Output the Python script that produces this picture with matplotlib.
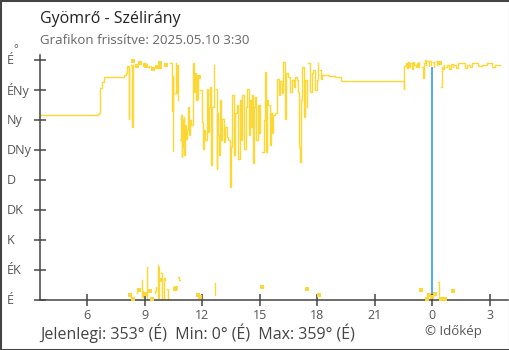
import numpy as np
import matplotlib
matplotlib.use('Agg')
import matplotlib.pyplot as plt
from matplotlib import transforms
from matplotlib.patches import Rectangle

plt.rcParams['font.family'] = ['Open Sans', 'DejaVu Sans']

TITLE = 'Gyömrő - Szélirány'
SUBTITLE = 'Grafikon frissítve: 2025.05.10 3:30'
FOOTER = 'Jelenlegi: 353° (É)  Min: 0° (É)  Max: 359° (É)'
CREDIT = '© Időkép'

# wind direction readings: hour of day (past midnight > 24) and degrees
TIME_H = [
    3.50, 6.55, 6.62, 6.70, 6.76, 6.88, 7.45, 7.92, 8.05,
    8.10, 8.16, 8.18, 8.20, 8.24, 8.28, 8.33, 8.36, 8.38, 8.40, 8.42,
    8.58, 8.61, 8.63, 8.71, 8.75, 8.84, 8.86, 8.94, 9.02, 9.07, 9.09,
    9.13, 9.15, 9.18, 9.24, 9.28, 9.31, 9.36, 9.39, 9.44, 9.52, 9.55,
    9.60, 9.65, 9.69, 9.71, 9.76, 9.78, 9.80, 9.82, 9.88, 9.90, 10.00,
    10.04, 10.13, 10.18, 10.22, 10.34, 10.43, 10.47, 10.49, 10.56, 10.58,
    10.62, 10.66, 10.68, 10.71, 10.74, 10.75, 10.78, 10.85, 10.86, 10.90,
    10.93, 10.97, 11.00, 11.03, 11.05,
    11.09, 11.14, 11.20, 11.26, 11.31, 11.37, 11.42, 11.52, 11.57, 11.62,
    11.68, 11.74, 11.77, 11.79, 11.82, 11.88, 11.91, 11.99, 12.04, 12.10,
    12.16, 12.25, 12.30, 12.36, 12.41, 12.46, 12.52, 12.60, 12.66, 12.68,
    12.70, 12.75, 12.80, 12.85, 12.90, 12.95, 13.00, 13.05, 13.12, 13.20,
    13.28, 13.36, 13.44, 13.50, 13.57, 13.64, 13.72, 13.82, 13.88, 13.95,
    14.02, 14.09, 14.17, 14.26, 14.35, 14.42, 14.50, 14.56, 14.61, 14.66,
    14.71, 14.76, 14.82, 14.89, 14.96, 15.03, 15.10, 15.13, 15.20, 15.29,
    15.34, 15.40, 15.45, 15.52, 15.60, 15.65, 15.70, 15.82, 15.91, 15.99,
    16.06, 16.14, 16.22, 16.30, 16.38, 16.48, 16.58, 16.68, 16.78, 16.85,
    16.94, 17.01, 17.06, 17.11, 17.16, 17.22, 17.30, 17.38, 17.45, 17.48,
    17.53, 17.62, 17.70, 17.79, 17.88, 17.96, 18.05, 18.10, 18.14, 18.20,
    18.26, 18.60, 18.95, 19.25, 22.50,
    22.53, 22.60, 22.66, 22.72, 22.78, 22.85, 22.92, 22.98, 23.05, 23.12,
    23.18, 23.25, 23.32, 23.40, 23.45, 23.50, 23.54, 23.60, 23.66, 23.70,
    23.74, 23.80, 23.84, 23.88, 23.93, 23.96, 24.02, 24.08, 24.13, 24.18,
    24.24, 24.31, 24.33, 24.36, 24.40, 24.43, 24.46, 24.48, 24.55, 24.62,
    24.66, 24.70, 24.78, 24.86, 24.95, 25.05, 25.09, 25.14, 25.25, 25.33,
    25.70, 25.80, 25.95, 26.06, 26.37, 26.60, 26.84, 27.10, 27.25, 27.42,
    27.50,
]
DIR_DEG = [
    277, 279, 281, 318, 327, 334, 335, 337, 340,
    351, 350, 272, 351, 7, 352, 350, 260, 353, 1, 359,
    10, 14, 351, 15, 356, 30, 4, 13, 352, 9, 351,
    50, 2, 350, 351, 13, 351, 349, 2, 347, 10, 14,
    20, 350, 53, 3, 49, 349, 30, 356, 40, 2, 33,
    30, 352, 17, 2, 355, 283, 336, 223, 17, 310,
    355, 18, 310, 353, 300, 34, 30, 30, 240, 277,
    215, 270, 230, 275, 218,
    262, 242, 255, 290, 247, 270, 262, 355, 312, 340,
    300, 332, 302, 8, 335, 5, 315, 267, 227, 255,
    240, 317, 252, 290, 320, 202, 290, 352, 25, 8,
    317, 197, 280, 247, 217, 300, 240, 272, 237, 260,
    245, 240, 170, 230, 307, 217, 280, 292, 212, 300,
    240, 307, 227, 290, 317, 247, 300, 260, 307, 205,
    290, 305, 240, 293, 250, 293, 19, 222, 270, 342,
    222, 300, 292, 232, 280, 250, 277, 280, 332, 307,
    328, 310, 357, 272, 340, 335, 312, 330, 320, 335,
    330, 312, 230, 207, 300, 350, 275, 330, 290, 17,
    355, 312, 340, 345, 315, 330, 355, 8, 345, 332,
    338, 336, 334, 329, 316,
    351, 355, 348, 357, 350, 355, 347, 357, 352, 349,
    356, 350, 357, 15, 350, 333, 355, 360, 352, 1,
    358, 351, 7, 359, 353, 5, 357, 350, 9, 358,
    352, 27, 15, 4, 356, 1, 319, 350, 346, 352,
    1, 349, 352, 347, 354, 350, 13, 352, 348, 356,
    348, 352, 350, 356, 351, 353, 356, 350, 352, 353,
    353,
]

Y_TICKS = [0, 45, 90, 135, 180, 225, 270, 315, 360]
Y_LABELS = ['É', 'ÉK', 'K', 'DK', 'D', 'DNy', 'Ny', 'ÉNy', 'É']
X_TICKS = [6, 9, 12, 15, 18, 21, 24, 27]
X_LABELS = ['6', '9', '12', '15', '18', '21', '0', '3']
NOW_H = 24.0
NOW_TOP = 350

YELLOW = '#fdd835'
AXIS = '#444444'

t = np.array(TIME_H, dtype=float)
d = np.array(DIR_DEG, dtype=float)
n = len(t)

# break the line where the direction wraps round north
wrap = np.abs(np.diff(d)) > 180
xs, ys = [], []
for i in range(n):
    xs.append(t[i])
    ys.append(d[i])
    if i < n - 1 and wrap[i]:
        xs.append(t[i])
        ys.append(np.nan)

lone = np.array([((i == 0) or wrap[i - 1]) and ((i == n - 1) or wrap[i])
                 for i in range(n)])

fig = plt.figure(figsize=(5.1, 3.5), dpi=100)
ax = fig.add_axes([40 / 510, 50 / 350, 468 / 510, 245 / 350])

ax.vlines(NOW_H, 0, NOW_TOP, color='#2196f3', lw=1.1, zorder=1)
ax.plot(xs, ys, drawstyle='steps-post', color=YELLOW, lw=1.0, zorder=2)
ax.plot(t[lone], d[lone], 's', color=YELLOW, ms=2.8, mew=0, zorder=3, clip_on=False)

ax.set_xlim(3.55, 27.94)
ax.set_ylim(0, 367.5)
for s in ['top', 'right']:
    ax.spines[s].set_visible(False)
for s in ['left', 'bottom']:
    ax.spines[s].set_color(AXIS)
    ax.spines[s].set_linewidth(1.1)

ax.set_xticks(X_TICKS)
ax.set_xticklabels(X_LABELS)
ax.set_yticks(Y_TICKS)
ax.set_yticklabels([])
ax.tick_params(direction='inout', length=9, width=1.1, color=AXIS,
               labelsize=9, labelcolor='#555555', pad=2)

lab_tr = transforms.blended_transform_factory(fig.transFigure, ax.transData)
for v, lab in zip(Y_TICKS, Y_LABELS):
    ax.text(7 / 510, v, lab, transform=lab_tr, ha='left', va='center',
            fontsize=9, color='#555555')
fig.text(13 / 510, 1 - 50 / 350, '°', ha='left', va='center', fontsize=8, color='#555555')

fig.text(40 / 510, 1 - 19 / 350, TITLE, ha='left', va='center', fontsize=11.5, color='#222222')
fig.text(40 / 510, 1 - 40 / 350, SUBTITLE, ha='left', va='center', fontsize=9.5, color='#666666')
fig.text(40 / 510, 1 - 333 / 350, FOOTER, ha='left', va='center', fontsize=11.5, color='#444444')
fig.text(425 / 510, 1 - 331 / 350, CREDIT, ha='left', va='center', fontsize=9.5, color='#555555')

fig.patches.append(Rectangle((0, 0), 1, 1, transform=fig.transFigure, fill=False,
                             ec=AXIS, lw=2.2))

fig.savefig('out.png', dpi=100)
